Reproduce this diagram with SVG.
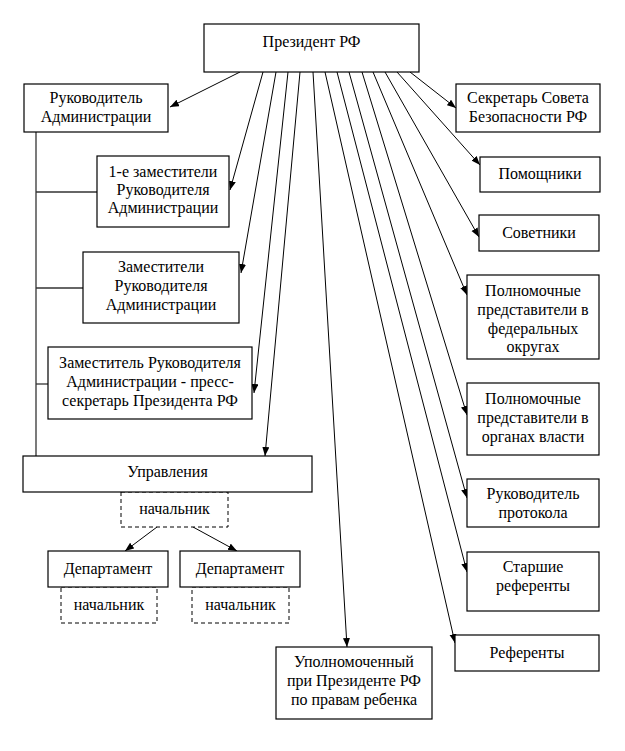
<svg xmlns="http://www.w3.org/2000/svg" width="625" height="751" viewBox="0 0 625 751">
<style>
.box{fill:#fff;stroke:#000;stroke-width:1.2}
.dash{fill:#fff;stroke:#000;stroke-width:1;stroke-dasharray:4,3}
text{font-family:"Liberation Serif","Times New Roman",serif;font-size:16px;fill:#000;text-anchor:middle}
.ln{stroke:#000;stroke-width:1;fill:none}
.tree{stroke:#333;stroke-width:1.3;fill:none}
</style>
<defs>
<marker id="ah" markerUnits="userSpaceOnUse" markerWidth="10" markerHeight="8" refX="9" refY="3.5" orient="auto">
<path d="M0,0 L9,3.5 L0,7 z" fill="#000"/>
</marker>
</defs>
<rect width="625" height="751" fill="#fff"/>
<g id="connectors">
<line class="tree" x1="36" y1="132" x2="36" y2="456"/>
<line class="tree" x1="36" y1="192" x2="97" y2="192"/>
<line class="tree" x1="36" y1="288" x2="83" y2="288"/>
<line class="tree" x1="36" y1="384" x2="48" y2="384"/>
<g marker-end="url(#ah)">
<line class="ln" x1="240" y1="72" x2="170" y2="107"/>
<line class="ln" x1="263" y1="72" x2="230" y2="190"/>
<line class="ln" x1="276" y1="72" x2="241" y2="273"/>
<line class="ln" x1="288" y1="72" x2="254" y2="393"/>
<line class="ln" x1="300" y1="72" x2="265" y2="456"/>
<line class="ln" x1="313" y1="72" x2="347" y2="647"/>
<line class="ln" x1="325" y1="72" x2="455" y2="643"/>
<line class="ln" x1="337" y1="72" x2="467" y2="572"/>
<line class="ln" x1="349" y1="72" x2="467" y2="498"/>
<line class="ln" x1="362" y1="72" x2="467" y2="415"/>
<line class="ln" x1="373" y1="72" x2="467" y2="295"/>
<line class="ln" x1="385" y1="72" x2="479" y2="237"/>
<line class="ln" x1="397" y1="72" x2="480" y2="165"/>
<line class="ln" x1="410" y1="72" x2="456" y2="108"/>
<line class="ln" x1="157" y1="527" x2="125" y2="551"/>
<line class="ln" x1="193" y1="527" x2="237" y2="551"/>
</g>
</g>
<g id="president">
<rect class="box" x="204" y="24" width="215" height="48"/>
<text x="311.5" y="47">Президент РФ</text>
</g>
<g id="head-admin">
<rect class="box" x="24" y="84" width="144" height="48"/>
<text x="96" y="103">Руководитель</text>
<text x="96" y="122">Администрации</text>
</g>
<g id="first-deputies">
<rect class="box" x="97" y="156" width="132" height="71"/>
<text x="163" y="177">1-е заместители</text>
<text x="163" y="195">Руководителя</text>
<text x="163" y="213">Администрации</text>
</g>
<g id="deputies">
<rect class="box" x="83" y="252" width="156" height="71"/>
<text x="161" y="272">Заместители</text>
<text x="161" y="291">Руководителя</text>
<text x="161" y="310">Администрации</text>
</g>
<g id="press-secretary">
<rect class="box" x="48" y="347" width="204" height="72"/>
<text x="150" y="368">Заместитель Руководителя</text>
<text x="150" y="387">Администрации - пресс-</text>
<text x="150" y="406">секретарь Президента РФ</text>
</g>
<g id="upr-head">
<rect class="dash" x="121" y="492" width="107" height="35"/>
<text x="174.5" y="514">начальник</text>
</g>
<g id="upravleniya">
<rect class="box" x="23" y="456" width="289" height="36"/>
<text x="167.5" y="477">Управления</text>
</g>
<g id="dep1-head">
<rect class="dash" x="61" y="587" width="96" height="36"/>
<text x="109" y="610">начальник</text>
</g>
<g id="dep1">
<rect class="box" x="48" y="551" width="120" height="36"/>
<text x="108" y="574">Департамент</text>
</g>
<g id="dep2-head">
<rect class="dash" x="192" y="587" width="97" height="36"/>
<text x="240.5" y="610">начальник</text>
</g>
<g id="dep2">
<rect class="box" x="180" y="551" width="120" height="36"/>
<text x="240" y="574">Департамент</text>
</g>
<g id="ombudsman">
<rect class="box" x="276" y="647" width="156" height="72"/>
<text x="354" y="667">Уполномоченный</text>
<text x="354" y="686">при Президенте РФ</text>
<text x="354" y="705">по правам ребенка</text>
</g>
<g id="security-secretary">
<rect class="box" x="456" y="84" width="144" height="48"/>
<text x="528" y="103">Секретарь Совета</text>
<text x="528" y="122">Безопасности РФ</text>
</g>
<g id="assistants">
<rect class="box" x="480" y="157" width="120" height="35"/>
<text x="540" y="179">Помощники</text>
</g>
<g id="advisers">
<rect class="box" x="479" y="215" width="120" height="36"/>
<text x="539" y="238">Советники</text>
</g>
<g id="envoys-districts">
<rect class="box" x="467" y="275" width="132" height="84"/>
<text x="533" y="296">Полномочные</text>
<text x="533" y="315">представители в</text>
<text x="533" y="334">федеральных</text>
<text x="533" y="352">округах</text>
</g>
<g id="envoys-authorities">
<rect class="box" x="467" y="383" width="132" height="72"/>
<text x="533" y="404">Полномочные</text>
<text x="533" y="423">представители в</text>
<text x="533" y="442">органах власти</text>
</g>
<g id="protocol">
<rect class="box" x="467" y="479" width="132" height="48"/>
<text x="533" y="499">Руководитель</text>
<text x="533" y="518">протокола</text>
</g>
<g id="senior-referents">
<rect class="box" x="467" y="552" width="132" height="59"/>
<text x="533" y="572">Старшие</text>
<text x="533" y="591">референты</text>
</g>
<g id="referents">
<rect class="box" x="455" y="635" width="144" height="36"/>
<text x="527" y="658">Референты</text>
</g>
</svg>
